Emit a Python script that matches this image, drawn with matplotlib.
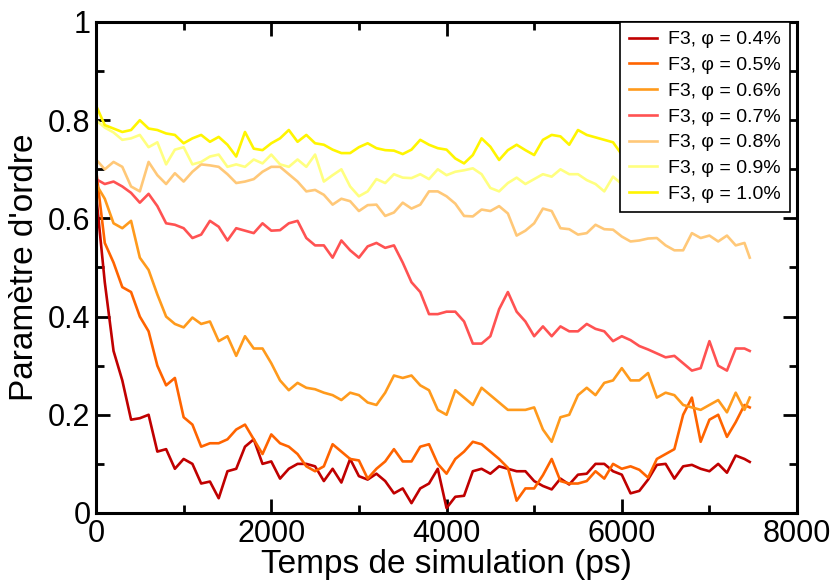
import numpy as np
import matplotlib
matplotlib.use("Agg")
import matplotlib.pyplot as plt
from matplotlib.ticker import MultipleLocator, FixedLocator

plt.rcParams['font.family'] = ['Liberation Sans', 'DejaVu Sans']

# time axis (ps): every 100 ps, last frame at 7460 ps
time_ps = list(range(0, 7500, 100)) + [7460]

phi_04 = [0.65, 0.47, 0.33, 0.27, 0.19, 0.193, 0.2, 0.125, 0.13, 0.09, 0.11, 0.1, 0.06, 0.064, 0.03,
          0.085, 0.09, 0.135, 0.15, 0.1, 0.105, 0.07, 0.09, 0.1, 0.1, 0.095, 0.065,
          0.09, 0.062, 0.11, 0.075, 0.068, 0.08, 0.065, 0.04, 0.05, 0.02, 0.05, 0.06, 0.09, 0.01,
          0.033, 0.035, 0.085, 0.09, 0.08, 0.095, 0.09, 0.085, 0.085, 0.065, 0.055, 0.048, 0.07,
          0.058, 0.078, 0.08, 0.1, 0.1, 0.085, 0.078, 0.04, 0.045, 0.068, 0.098, 0.1, 0.07, 0.095,
          0.098, 0.09, 0.085, 0.1, 0.082, 0.117, 0.11, 0.104]
phi_05 = [0.70, 0.55, 0.51, 0.46, 0.45, 0.40, 0.37, 0.30, 0.26, 0.275, 0.195, 0.18, 0.135, 0.142,
          0.142, 0.15, 0.17, 0.18, 0.15, 0.12, 0.16, 0.142, 0.135, 0.12, 0.095, 0.085, 0.095,
          0.14, 0.125, 0.11, 0.107, 0.07, 0.09, 0.105, 0.13, 0.105, 0.105, 0.135, 0.14, 0.1, 0.08,
          0.11, 0.125, 0.145, 0.14, 0.125, 0.11, 0.092, 0.025, 0.05, 0.05, 0.077, 0.11, 0.065,
          0.06, 0.06, 0.065, 0.085, 0.07, 0.1, 0.09, 0.095, 0.088, 0.072, 0.11, 0.12, 0.13, 0.2,
          0.235, 0.145, 0.19, 0.2, 0.155, 0.185, 0.22, 0.215]
phi_06 = [0.67, 0.64, 0.59, 0.58, 0.595, 0.52, 0.495, 0.445, 0.40, 0.385, 0.378, 0.398, 0.385,
          0.39, 0.35, 0.36, 0.32, 0.36, 0.335, 0.335, 0.305, 0.27, 0.25, 0.265, 0.255, 0.252, 0.245,
          0.24, 0.23, 0.245, 0.24, 0.225, 0.22, 0.245, 0.28, 0.275, 0.28, 0.26, 0.25, 0.21, 0.20,
          0.25, 0.235, 0.22, 0.255, 0.24, 0.225, 0.21, 0.21, 0.21, 0.215, 0.17, 0.145, 0.195,
          0.20, 0.24, 0.255, 0.24, 0.265, 0.27, 0.295, 0.27, 0.27, 0.285, 0.235, 0.245, 0.24, 0.22,
          0.215, 0.21, 0.22, 0.23, 0.205, 0.245, 0.21, 0.235]
phi_07 = [0.68, 0.67, 0.675, 0.665, 0.652, 0.632, 0.65, 0.625, 0.59, 0.587, 0.58, 0.56, 0.567,
          0.595, 0.583, 0.555, 0.58, 0.575, 0.57, 0.59, 0.575, 0.576, 0.59, 0.595, 0.56, 0.545, 0.545,
          0.52, 0.555, 0.535, 0.52, 0.543, 0.55, 0.54, 0.545, 0.51, 0.47, 0.45, 0.405, 0.405, 0.41,
          0.41, 0.39, 0.345, 0.345, 0.36, 0.415, 0.45, 0.41, 0.39, 0.36, 0.38, 0.36, 0.38,
          0.37, 0.37, 0.385, 0.375, 0.37, 0.35, 0.36, 0.352, 0.34, 0.333, 0.325, 0.317, 0.32, 0.305,
          0.29, 0.295, 0.35, 0.3, 0.29, 0.335, 0.335, 0.33]
phi_08 = [0.72, 0.70, 0.715, 0.705, 0.665, 0.655, 0.715, 0.688, 0.67, 0.692, 0.675, 0.695, 0.71,
          0.708, 0.705, 0.69, 0.672, 0.675, 0.68, 0.695, 0.705, 0.705, 0.69, 0.675, 0.655, 0.658, 0.648,
          0.628, 0.64, 0.635, 0.615, 0.627, 0.628, 0.605, 0.612, 0.632, 0.62, 0.628, 0.655, 0.655,
          0.645, 0.63, 0.605, 0.604, 0.618, 0.615, 0.625, 0.61, 0.565, 0.575, 0.59, 0.62, 0.615, 0.58,
          0.578, 0.567, 0.57, 0.587, 0.578, 0.577, 0.563, 0.553, 0.555, 0.559, 0.56, 0.545, 0.535,
          0.535, 0.57, 0.56, 0.565, 0.553, 0.565, 0.545, 0.55, 0.52]
phi_09 = [0.80, 0.785, 0.775, 0.76, 0.763, 0.77, 0.745, 0.755, 0.71, 0.74, 0.745, 0.71, 0.715,
          0.726, 0.73, 0.705, 0.71, 0.705, 0.72, 0.712, 0.73, 0.71, 0.705, 0.72, 0.705, 0.73, 0.675,
          0.688, 0.70, 0.665, 0.645, 0.655, 0.68, 0.672, 0.69, 0.683, 0.682, 0.69, 0.68, 0.70, 0.688,
          0.695, 0.698, 0.702, 0.69, 0.662, 0.655, 0.672, 0.683, 0.67, 0.68, 0.69, 0.685, 0.70,
          0.69, 0.69, 0.678, 0.67, 0.655, 0.685, 0.67, 0.655, 0.62, 0.645, 0.62, 0.625, 0.62, 0.64,
          0.645, 0.63, 0.632, 0.64, 0.65, 0.645, 0.65, 0.65]
phi_10 = [0.83, 0.79, 0.783, 0.776, 0.78, 0.80, 0.783, 0.78, 0.773, 0.77, 0.753, 0.763, 0.77,
          0.756, 0.766, 0.75, 0.726, 0.776, 0.742, 0.739, 0.753, 0.763, 0.78, 0.756, 0.77, 0.753, 0.75,
          0.74, 0.733, 0.733, 0.745, 0.753, 0.743, 0.739, 0.738, 0.731, 0.74, 0.76, 0.75, 0.743, 0.74,
          0.722, 0.712, 0.729, 0.763, 0.746, 0.719, 0.739, 0.75, 0.739, 0.729, 0.76, 0.77, 0.767,
          0.75, 0.78, 0.77, 0.765, 0.76, 0.755, 0.73, 0.71, 0.70, 0.69, 0.70, 0.69, 0.68, 0.69,
          0.68, 0.69, 0.68, 0.69, 0.70, 0.69, 0.70, 0.69]

labels = ["F3, φ = 0.4%", "F3, φ = 0.5%", "F3, φ = 0.6%", "F3, φ = 0.7%",
          "F3, φ = 0.8%", "F3, φ = 0.9%", "F3, φ = 1.0%"]
series = [phi_04, phi_05, phi_06, phi_07, phi_08, phi_09, phi_10]
colors = ['#C00000', '#FF6400', '#FF9A1C', '#FF5252', '#FFC878', '#FFFF80', '#FFF500']

fig = plt.figure(figsize=(8.32, 5.82), dpi=100)
ax = fig.add_axes([0.1154, 0.1186, 0.8426, 0.8436])

for y, c, lab in zip(series, colors, labels):
    ax.plot(time_ps, y, color=c, lw=1.9, label=lab)

ax.set_xlim(0, 8000)
ax.set_ylim(0, 1)
ax.xaxis.set_major_locator(MultipleLocator(2000))
ax.xaxis.set_minor_locator(MultipleLocator(1000))
ax.yaxis.set_major_locator(FixedLocator([0, 0.2, 0.4, 0.6, 0.8, 1.0]))
ax.yaxis.set_minor_locator(MultipleLocator(0.1))
ax.set_yticklabels(['0', '0.2', '0.4', '0.6', '0.8', '1'])
ax.tick_params(which='both', direction='in', top=True, right=True, width=2, labelsize=22)
ax.tick_params(which='major', length=10, pad=4)
ax.tick_params(which='minor', length=5.5)
for s in ax.spines.values():
    s.set_linewidth(2.2)

ax.set_xlabel("Temps de simulation (ps)", fontsize=24, labelpad=0)
ax.set_ylabel("Paramètre d'ordre", fontsize=24, labelpad=6)

leg = ax.legend(loc='upper right', bbox_to_anchor=(0.99, 1.0), fontsize=14, frameon=True,
                fancybox=False, framealpha=1, edgecolor='black', handlelength=1.45,
                handletextpad=0.6, labelspacing=0.42, borderpad=0.45, borderaxespad=0)
leg.get_frame().set_linewidth(1.2)

fig.savefig("out.png", dpi=100)
